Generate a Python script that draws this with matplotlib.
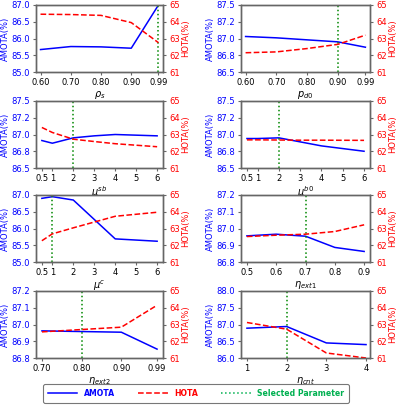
import matplotlib
matplotlib.use("Agg")
import matplotlib.pyplot as plt
from matplotlib.lines import Line2D
from matplotlib.ticker import FormatStrFormatter

# ---- data ----
rho_s_x = [0.60, 0.70, 0.80, 0.90, 0.99]
rho_s_amota = [85.67, 85.76, 85.75, 85.71, 87.0]
rho_s_hota = [64.45, 64.43, 64.38, 63.95, 62.75]

pd0_x = [0.60, 0.70, 0.80, 0.90, 0.99]
pd0_amota = [87.03, 87.01, 86.98, 86.95, 86.87]
pd0_hota = [62.15, 62.2, 62.4, 62.65, 63.2]

mu_sb_x = [0.5, 1, 2, 3, 4, 6]
mu_sb_amota = [86.91, 86.87, 86.95, 86.98, 87.0, 86.98]
mu_sb_hota = [63.42, 63.12, 62.72, 62.58, 62.45, 62.27]

mu_b0_x = [0.5, 1, 2, 3, 4, 6]
mu_b0_amota = [86.94, 86.94, 86.95, 86.89, 86.83, 86.75]
mu_b0_hota = [62.68, 62.68, 62.67, 62.66, 62.66, 62.65]

mu_c_x = [0.5, 1, 2, 4, 6]
mu_c_amota = [86.9, 86.95, 86.85, 85.69, 85.62]
mu_c_hota = [62.27, 62.68, 63.04, 63.73, 63.97]

ext1_x = [0.5, 0.6, 0.7, 0.8, 0.9]
ext1_amota = [86.956, 86.966, 86.954, 86.887, 86.863]
ext1_hota = [62.52, 62.6, 62.66, 62.82, 63.22]

ext2_x = [0.70, 0.80, 0.90, 0.99]
ext2_amota = [86.962, 86.958, 86.954, 86.853]
ext2_hota = [62.56, 62.70, 62.84, 64.15]

cnt_x = [1, 2, 3, 4]
cnt_amota = [86.89, 86.94, 86.45, 86.4]
cnt_hota = [63.12, 62.72, 61.3, 61.0]

panels = [
    (r"$\rho_s$", rho_s_x, rho_s_amota, rho_s_hota, 0.99,
     [0.60, 0.70, 0.80, 0.90, 0.99], "%.2f", (85.0, 87.0), [85.0, 85.5, 86.0, 86.5, 87.0], (0.585, 1.005)),
    (r"$p_{d0}$", pd0_x, pd0_amota, pd0_hota, 0.90,
     [0.60, 0.70, 0.80, 0.90, 0.99], "%.2f", (86.5, 87.5), [86.5, 86.75, 87.0, 87.25, 87.5], (0.585, 1.005)),
    (r"$\mu^{sb}$", mu_sb_x, mu_sb_amota, mu_sb_hota, 2,
     [0.5, 1, 2, 3, 4, 5, 6], None, (86.5, 87.5), [86.5, 86.75, 87.0, 87.25, 87.5], (0.22, 6.28)),
    (r"$\mu^{b0}$", mu_b0_x, mu_b0_amota, mu_b0_hota, 2,
     [0.5, 1, 2, 3, 4, 5, 6], None, (86.5, 87.5), [86.5, 86.75, 87.0, 87.25, 87.5], (0.22, 6.28)),
    (r"$\mu^{c}$", mu_c_x, mu_c_amota, mu_c_hota, 1,
     [0.5, 1, 2, 3, 4, 5, 6], None, (85.0, 87.0), [85.0, 85.5, 86.0, 86.5, 87.0], (0.22, 6.28)),
    (r"$\eta_{ext1}$", ext1_x, ext1_amota, ext1_hota, 0.7,
     [0.5, 0.6, 0.7, 0.8, 0.9], "%.1f", (86.8, 87.2), [86.8, 86.9, 87.0, 87.1, 87.2], (0.48, 0.92)),
    (r"$\eta_{ext2}$", ext2_x, ext2_amota, ext2_hota, 0.80,
     [0.70, 0.80, 0.90, 0.99], "%.2f", (86.8, 87.2), [86.8, 86.9, 87.0, 87.1, 87.2], (0.685, 1.005)),
    (r"$\eta_{cnt}$", cnt_x, cnt_amota, cnt_hota, 2,
     [1, 2, 3, 4], None, (86.0, 88.0), [86.0, 86.5, 87.0, 87.5, 88.0], (0.85, 4.1)),
]

hota_ticks = [61, 62, 63, 64, 65]

W, H = 397, 408
fig = plt.figure(figsize=(W / 100, H / 100), dpi=100)

col_x = [(36, 127), (241, 129)]
row_top = [5, 101, 195, 291]
ax_h = 67
fs = 6

blue = "#0000ff"
red = "#ff0000"
green = "#008800"
spine_c = "#666666"

for i, (lab, x, am, ho, sel, xt, xfmt, ylim, yt, xlim) in enumerate(panels):
    r, c = divmod(i, 2)
    x0, w = col_x[c]
    ax = fig.add_axes([x0 / W, 1 - (row_top[r] + ax_h) / H, w / W, ax_h / H])
    ax2 = ax.twinx()

    ax.plot(x, am, color=blue, lw=1.1)
    ax2.plot(x, ho, color=red, lw=1.1, ls="--")
    ax.axvline(sel, color=green, lw=1.1, ls=":")

    ax.set_xlim(*xlim)
    ax.set_ylim(*ylim)
    ax2.set_ylim(61, 65)
    ax.set_xticks(xt)
    if xfmt:
        ax.xaxis.set_major_formatter(FormatStrFormatter(xfmt))
    else:
        ax.set_xticklabels([("%g" % v) for v in xt])
    ax.set_yticks(yt)
    ax.yaxis.set_major_formatter(FormatStrFormatter("%.1f"))
    ax2.set_yticks(hota_ticks)

    ax.tick_params(axis="x", labelsize=fs, length=2.5, pad=2, color=spine_c)
    ax.tick_params(axis="y", labelsize=fs, labelcolor=blue, length=2.5, pad=2, color=spine_c)
    ax2.tick_params(axis="y", labelsize=fs, labelcolor=red, length=2.5, pad=2, color=spine_c)
    ax.set_ylabel("AMOTA(%)", color=blue, fontsize=fs, labelpad=1)
    ax2.set_ylabel("HOTA(%)", color=red, fontsize=fs, labelpad=1)
    ax.set_xlabel(lab, fontsize=fs + 1, labelpad=1)

    for a in (ax, ax2):
        for s in a.spines.values():
            s.set_color(spine_c)
            s.set_linewidth(1.0)

handles = [
    Line2D([], [], color=blue, lw=1.1),
    Line2D([], [], color=red, lw=1.1, ls="--"),
    Line2D([], [], color="#00b050", lw=1.1, ls=":"),
]
leg = fig.legend(handles, ["AMOTA", "HOTA", "Selected Parameter"], ncol=3,
                 loc="center", bbox_to_anchor=(196 / W, 1 - 393.5 / H),
                 prop={"size": 5.6, "weight": "bold"}, frameon=True,
                 handlelength=3.8, columnspacing=3.0, handletextpad=0.8,
                 borderpad=0.6, borderaxespad=0, fancybox=True)
leg.get_frame().set_edgecolor("#555555")
leg.get_frame().set_linewidth(0.8)
for t, col in zip(leg.get_texts(), [blue, red, "#00b050"]):
    t.set_color(col)

fig.savefig("out.png", dpi=100)
